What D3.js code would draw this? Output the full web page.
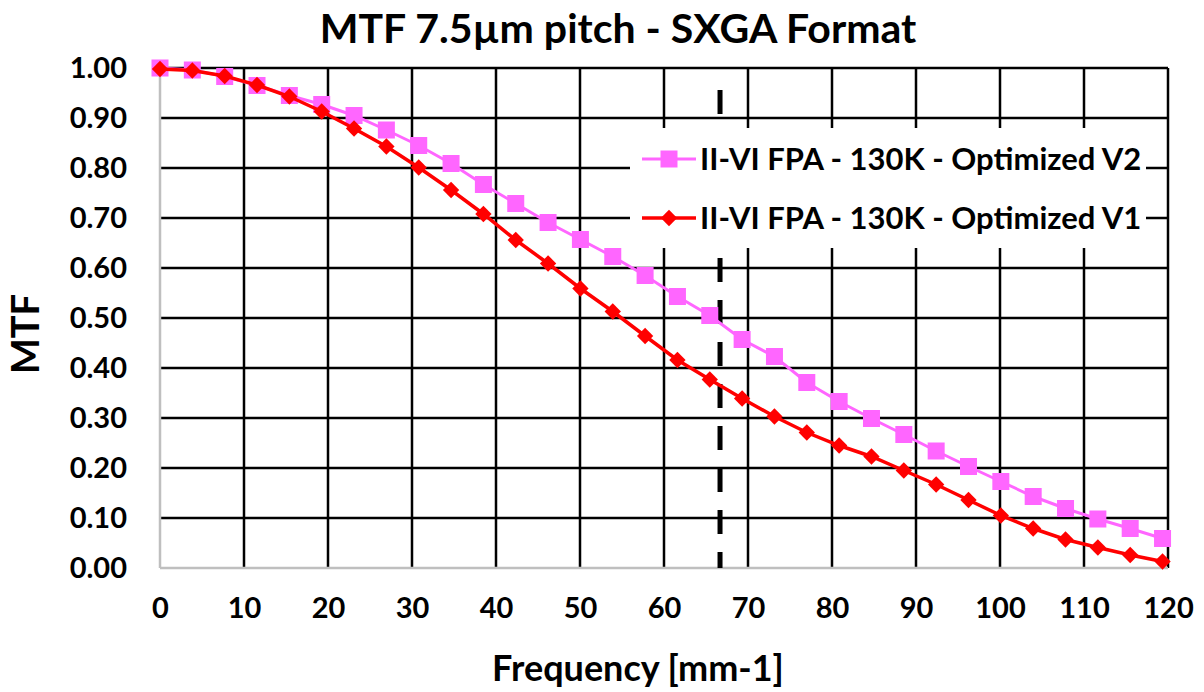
<!DOCTYPE html>
<html>
<head>
<meta charset="utf-8">
<script src="https://cdn.jsdelivr.net/npm/d3@7"></script>
<style>
body { margin: 0; background: #fff; }
text { font-family: Lato, "Open Sans", sans-serif; font-weight: bold; fill: #000; }
</style>
</head>
<body>
<div id="chart"></div>
<script>
// frequencies [mm-1]
var freq = [0, 3.85, 7.7, 11.55, 15.4, 19.25, 23.1, 26.95, 30.8, 34.65, 38.5, 42.35, 46.2, 50.05, 53.9, 57.75,
    61.6, 65.45, 69.3, 73.15, 77.0, 80.85, 84.7, 88.55, 92.4, 96.25, 100.1, 103.95, 107.8, 111.65, 115.5, 119.35];

var mtfV2 = [1.000, 0.996, 0.983, 0.965, 0.945, 0.927, 0.905, 0.876, 0.845, 0.809, 0.767, 0.729, 0.691, 0.657, 0.623, 0.585,
    0.543, 0.505, 0.457, 0.423, 0.371, 0.333, 0.299, 0.267, 0.234, 0.203, 0.173, 0.143, 0.119, 0.098, 0.079, 0.059];

var mtfV1 = [0.998, 0.995, 0.984, 0.966, 0.943, 0.913, 0.879, 0.843, 0.801, 0.756, 0.708, 0.656, 0.609, 0.559, 0.513, 0.464,
    0.416, 0.377, 0.339, 0.303, 0.271, 0.245, 0.223, 0.195, 0.167, 0.136, 0.105, 0.079, 0.057, 0.041, 0.026, 0.013];

var seriesNames = ["II-VI FPA - 130K - Optimized V2", "II-VI FPA - 130K - Optimized V1"];
var xTicks = [0, 10, 20, 30, 40, 50, 60, 70, 80, 90, 100, 110, 120];
var yTicks = [0, 0.1, 0.2, 0.3, 0.4, 0.5, 0.6, 0.7, 0.8, 0.9, 1.0];
var nyquist = 66.67; // 1 / (2 * 7.5um)

var width = 1204, height = 692;

var svg = d3.select("#chart").append("svg")
    .attr("width", width)
    .attr("height", height);

var x = d3.scaleLinear().domain([0, 120]).range([160, 1168]);
var y = d3.scaleLinear().domain([0, 1]).range([568, 68]);

/* grid lines */
svg.append("g").selectAll("line")
    .data(yTicks.filter(function (d) { return d > 0; }))
    .enter().append("line")
    .attr("x1", x(0)).attr("x2", x(120))
    .attr("y1", function (d) { return y(d); })
    .attr("y2", function (d) { return y(d); })
    .attr("stroke", "#000")
    .attr("stroke-width", 2.5);

svg.append("g").selectAll("line")
    .data(xTicks.filter(function (d) { return d > 0; }))
    .enter().append("line")
    .attr("y1", y(0)).attr("y2", y(1))
    .attr("x1", function (d) { return x(d); })
    .attr("x2", function (d) { return x(d); })
    .attr("stroke", "#000")
    .attr("stroke-width", 2.5);

// grey axis lines (left + bottom)
svg.append("line")
    .attr("x1", x(0)).attr("x2", x(0)).attr("y1", y(0)).attr("y2", y(1))
    .attr("stroke", "#bfbfbf").attr("stroke-width", 2.5);
svg.append("line")
    .attr("x1", x(0)).attr("x2", x(120)).attr("y1", y(0)).attr("y2", y(0))
    .attr("stroke", "#bfbfbf").attr("stroke-width", 2.5);

// nyquist dashed marker
svg.append("line")
    .attr("x1", x(nyquist)).attr("x2", x(nyquist))
    .attr("y1", 90).attr("y2", y(0))
    .attr("stroke", "#000")
    .attr("stroke-width", 5)
    .attr("stroke-dasharray", "24,18");

/* axes tick labels */
var xAxis = d3.axisBottom(x).tickValues(xTicks).tickSize(0).tickPadding(29);
svg.append("g")
    .attr("transform", "translate(0," + y(0) + ")")
    .call(xAxis)
    .call(function (g) { g.select(".domain").remove(); })
    .selectAll("text")
    .style("font-size", "29px")
    .style("font-family", "Lato, 'Open Sans', sans-serif")
    .style("font-weight", "bold");

var yAxis = d3.axisLeft(y).tickValues(yTicks).tickSize(0).tickPadding(33).tickFormat(d3.format(".2f"));
svg.append("g")
    .attr("transform", "translate(" + x(0) + ",0)")
    .call(yAxis)
    .call(function (g) { g.select(".domain").remove(); })
    .selectAll("text")
    .style("font-size", "29px")
    .style("font-family", "Lato, 'Open Sans', sans-serif")
    .style("font-weight", "bold");

// titles
svg.append("text")
    .attr("x", 618).attr("y", 43)
    .attr("text-anchor", "middle")
    .style("font-size", "41px")
    .text("MTF 7.5µm pitch - SXGA Format");

svg.append("text")
    .attr("x", 638).attr("y", 681)
    .attr("text-anchor", "middle")
    .style("font-size", "36px")
    .text("Frequency [mm-1]");

svg.append("text")
    .attr("transform", "translate(39,334) rotate(-90)")
    .attr("text-anchor", "middle")
    .style("font-size", "38px")
    .text("MTF");

/* series */
var pink = "#ff66ff", red = "#ff0000";

function pts(vals) {
    return freq.map(function (f, i) { return [f, vals[i]]; });
}

var line = d3.line()
    .x(function (d) { return x(d[0]); })
    .y(function (d) { return y(d[1]); });

svg.append("path")
    .datum(pts(mtfV2))
    .attr("d", line)
    .attr("fill", "none")
    .attr("stroke", pink)
    .attr("stroke-width", 3);

svg.append("g").selectAll("rect")
    .data(pts(mtfV2))
    .enter().append("rect")
    .attr("x", function (d) { return x(d[0]) - 8.5; })
    .attr("y", function (d) { return y(d[1]) - 8.5; })
    .attr("width", 17).attr("height", 17)
    .attr("fill", pink);

svg.append("path")
    .datum(pts(mtfV1))
    .attr("d", line)
    .attr("fill", "none")
    .attr("stroke", red)
    .attr("stroke-width", 3.5);

var diamond = d3.symbol().type(d3.symbolDiamond2).size(170);
svg.append("g").selectAll("path")
    .data(pts(mtfV1))
    .enter().append("path")
    .attr("d", diamond)
    .attr("transform", function (d) { return "translate(" + x(d[0]) + "," + y(d[1]) + ")"; })
    .attr("fill", red);

/* legend */
var legend = svg.append("g");
legend.append("rect")
    .attr("x", 630).attr("y", 128)
    .attr("width", 516).attr("height", 120)
    .attr("fill", "#fff");

var legRows = legend.selectAll("g")
    .data([{name: seriesNames[0], color: pink, type: "square", cy: 159},
           {name: seriesNames[1], color: red, type: "diamond", cy: 218}])
    .enter().append("g")
    .attr("transform", function (d) { return "translate(0," + d.cy + ")"; });

legRows.append("line")
    .attr("x1", 642).attr("x2", 696)
    .attr("stroke", function (d) { return d.color; })
    .attr("stroke-width", function (d) { return d.type === "square" ? 3 : 3.5; });

legRows.append("path")
    .attr("d", function (d) {
        return d.type === "square" ? d3.symbol().type(d3.symbolSquare).size(289)() : diamond();
    })
    .attr("transform", "translate(669,0)")
    .attr("fill", function (d) { return d.color; });

legRows.append("text")
    .attr("x", 700).attr("y", 0)
    .attr("dy", "0.35em")
    .style("font-size", "31px")
    .text(function (d) { return d.name; });
</script>
</body>
</html>
